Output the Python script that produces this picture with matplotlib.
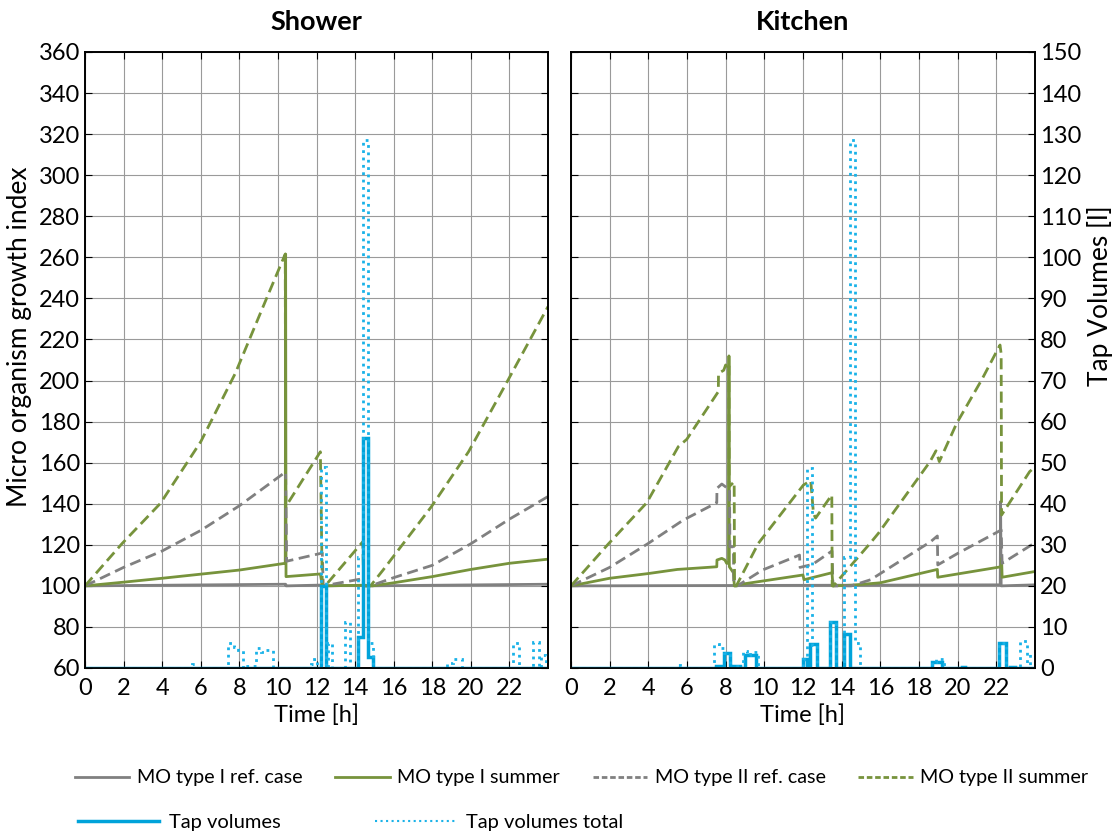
import matplotlib
matplotlib.use('Agg')
import matplotlib.pyplot as plt
from matplotlib.lines import Line2D

plt.rcParams['font.family'] = ['Lato', 'DejaVu Sans']

# ---------------- data ----------------
# Shower: micro organism growth index
sh_I_ref_t = [0, 10.4, 10.42, 12.3, 12.32, 14.5, 14.52, 24]
sh_I_ref_v = [100, 100.8, 100, 100.4, 100, 100.3, 100, 100.8]

sh_I_sum_t = [0, 2, 4, 6, 8, 10.38, 10.4, 10.42, 12.2, 12.3, 14.5, 14.9, 16, 18, 20, 22, 24]
sh_I_sum_v = [100, 101.8, 103.7, 105.7, 107.7, 111, 261.6, 104.5, 105.8, 100, 100.3, 100, 101.5, 104.5, 108, 111, 113]

sh_II_ref_t = [0, 2, 4, 6, 8, 10.4, 10.45, 12.3, 12.35, 14.4, 14.45, 14.8, 16, 18, 20, 22, 24]
sh_II_ref_v = [100, 109, 117, 127, 139, 155.5, 112, 116, 100, 103.5, 100, 100, 104, 110, 120.5, 132.5, 143.5]

sh_II_sum_t = [0, 1.93, 3.91, 6.0, 7.79, 9.34, 10.38, 10.4, 12.2, 12.3, 12.45, 14.4, 14.45, 14.8, 15.45, 17.95, 19.88, 21.88, 24]
sh_II_sum_v = [100, 120.7, 140.2, 170.2, 203.5, 238.4, 261.6, 138.5, 165.3, 100, 100, 121.5, 100, 100, 107.7, 138.5, 165.3, 199.4, 236]

# Shower: tap volumes [l] (step edges / values)
sh_tap_edges = [0, 12.21, 12.49, 14.16, 14.42, 14.68, 14.94, 24]
sh_tap_vals = [0, 20, 0, 7.6, 56, 2.7, 0]

sh_tot_edges = [0, 5.53, 5.7, 7.43, 7.7, 7.95, 8.2, 8.3, 8.86, 9.1, 9.4, 9.76, 11.7, 11.85, 12.0,
                12.21, 12.49, 12.6, 12.78, 13.47, 13.73, 14.16, 14.42, 14.68, 14.94,
                18.74, 19.1, 19.52, 22.16, 22.5, 23.2, 23.54, 23.66, 23.92, 24]
sh_tot_vals = [0, 1.0, 0, 6.0, 5.0, 4.4, 0, 0.6, 4.8, 3.8, 4.5, 0, 1.0, 2.2,
               0, 49, 0, 6.0, 0, 11.3, 0, 27, 128.5, 6.0,
               0, 1.2, 2.2, 0, 6.2, 0, 6.4, 0, 3.2, 0]

# Kitchen: micro organism growth index
kt_I_ref_t = [0, 22.2, 22.22, 22.25, 24]
kt_I_ref_v = [100, 100.5, 141, 100, 100.5]

kt_I_sum_t = [0, 2, 4, 5.5, 7.54, 7.55, 7.8, 7.96, 8.05, 8.15, 8.17, 8.19, 8.4, 8.45, 8.6, 12.0, 12.05,
              13.5, 13.55, 14.5, 16, 18.95, 18.97, 22.25, 22.27, 22.3, 24]
kt_I_sum_v = [100, 103.7, 106, 108, 109.3, 112.6, 113.4, 112.6, 111, 111, 212, 109.3, 106.4, 100, 100.5,
              105.3, 103, 106.4, 100, 100.3, 101.5, 108, 104.2, 109.3, 113.4, 104.2, 107]

kt_II_ref_t = [0, 2, 4, 5.8, 7.54, 7.55, 7.8, 8.1, 8.2, 8.22, 8.4, 8.42, 8.6, 9.9, 11.82, 11.85, 12.5,
               13.5, 13.55, 14.5, 15.5, 18.6, 18.95, 18.97, 20, 22.25, 22.3, 24]
kt_II_ref_v = [100, 109, 120.7, 132, 140.5, 147.5, 149.6, 147.5, 147.5, 119, 119, 100, 100, 107.7, 115, 109,
               110.5, 117, 100, 100, 103, 121.5, 124.3, 110.2, 115.8, 127.2, 111, 121]

kt_II_sum_t = [0, 1.93, 3.92, 5.55, 5.99, 7.62, 7.63, 7.9, 8.0, 8.1, 8.17, 8.18, 8.44, 8.46, 8.55, 9.69,
               12.02, 12.4, 12.54, 12.65, 13.49, 13.51, 13.57, 15.47, 15.9, 18.57, 18.88, 19.05, 19.95,
               21.24, 22.19, 22.25, 22.27, 23.72, 24]
kt_II_sum_v = [100, 120.4, 140.5, 167.8, 171.4, 194.6, 203.5, 205, 207.6, 205, 207, 148.3, 150.7, 100, 100,
               120.7, 149.1, 151.2, 135.3, 133, 144.3, 100, 100, 120.7, 125.6, 160.5, 165.8, 160.5, 179.2,
               200.3, 217.3, 213, 134.5, 155.6, 158]

# Kitchen: tap volumes [l]
kt_tap_edges = [0, 7.5, 7.93, 8.23, 8.4, 8.74, 9.0, 9.55, 12.02, 12.19, 12.36, 12.71, 13.4, 13.69,
                14.14, 14.43, 18.66, 19.18, 20.2, 20.38, 22.14, 22.49, 22.71, 22.97, 24]
kt_tap_vals = [0, 0.5, 3.7, 0, 0.6, 0, 3.2, 0, 2.2, 0, 5.8, 0, 11.1, 0,
               8.2, 0, 1.4, 0, 0.3, 0, 6.2, 0, 0.3, 0]

kt_tot_edges = [0, 5.47, 5.64, 7.41, 7.67, 7.93, 8.23, 8.4, 8.74, 8.92, 9.09, 9.26, 9.69, 12.02, 12.19,
                12.45, 12.71, 13.4, 13.69, 14.12, 14.43, 14.69, 14.95, 18.66, 18.9, 19.3,
                22.14, 22.49, 23.23, 23.57, 23.75, 24]
kt_tot_vals = [0, 0.8, 0, 5.8, 4.8, 3.7, 0, 0.6, 0, 4.1, 3.2, 3.8, 0, 2.2, 48.6,
               5.6, 0, 11.1, 0, 27, 128.6, 6.0, 0, 1.4, 2.2, 0,
               6.2, 0, 6.6, 0, 3.4]

x_ticks = list(range(0, 24, 2))
y_ticks = list(range(60, 361, 20))
tap_ticks = list(range(0, 151, 10))

# ---------------- style ----------------
GRAY = '#808080'
GREEN = '#77933C'
BLUE = '#00A3DA'
BLUE_DOT = '#19B2E8'
FS = 17
FS_Y = 19

fig = plt.figure(figsize=(11.12, 8.34), dpi=100)
ax1 = fig.add_axes([85/1112, 166/834, 463/1112, 616/834])
ax2 = fig.add_axes([571/1112, 166/834, 464/1112, 616/834])

panels = [
    (ax1, 'Shower', (sh_I_ref_t, sh_I_ref_v), (sh_I_sum_t, sh_I_sum_v), (sh_II_ref_t, sh_II_ref_v),
     (sh_II_sum_t, sh_II_sum_v), (sh_tap_edges, sh_tap_vals), (sh_tot_edges, sh_tot_vals)),
    (ax2, 'Kitchen', (kt_I_ref_t, kt_I_ref_v), (kt_I_sum_t, kt_I_sum_v), (kt_II_ref_t, kt_II_ref_v),
     (kt_II_sum_t, kt_II_sum_v), (kt_tap_edges, kt_tap_vals), (kt_tot_edges, kt_tot_vals)),
]

for i, (ax, title, iref, isum, iiref, iisum, tap, tot) in enumerate(panels):
    ax.set_xlim(0, 24)
    ax.set_ylim(60, 360)
    ax.set_xticks(x_ticks)
    ax.set_yticks(y_ticks)
    ax.grid(True, color='#9a9a9a', lw=0.8)
    ax.set_axisbelow(True)
    ax.plot(*iref, color=GRAY, lw=2, label='MO type I ref. case')
    ax.plot(*isum, color=GREEN, lw=2, label='MO type I summer')
    ax.plot(*iiref, color=GRAY, lw=2, ls=(0, (4, 2)), label='MO type II ref. case')
    ax.plot(*iisum, color=GREEN, lw=2, ls=(0, (4, 2)), label='MO type II summer')
    tw = ax.twinx()
    tw.set_ylim(0, 150)
    tw.set_yticks(tap_ticks)
    tw.stairs(tap[1], tap[0], color=BLUE, lw=2.5, baseline=None, label='Tap volumes')
    tw.stairs(tot[1], tot[0], color=BLUE_DOT, lw=2, ls=':', baseline=None, label='Tap volumes total')
    ax.tick_params(direction='in', length=5, top=True, right=False, labelsize=FS, color='black')
    ax.tick_params(axis='x', pad=7)
    tw.tick_params(direction='in', length=5, labelsize=FS)
    ax.set_title(title, fontweight='bold', fontsize=19.5, pad=16)
    ax.set_xlabel('Time [h]', fontsize=FS, labelpad=4)
    if i == 0:
        ax.set_ylabel('Micro organism growth index', fontsize=FS_Y)
        ax.yaxis.set_label_coords(-0.115, 0.537)
        tw.set_yticklabels([])
    else:
        ax.set_yticklabels([])
        tw.set_ylabel('Tap Volumes [l]', fontsize=FS_Y)
        tw.yaxis.set_label_coords(1.112, 0.605)
    for sp in list(ax.spines.values()) + list(tw.spines.values()):
        sp.set_linewidth(1.2)

leg_line1 = [Line2D([], [], color=GRAY, lw=2),
             Line2D([], [], color=GREEN, lw=2),
             Line2D([], [], color=GRAY, lw=2, ls=(0, (2, 1))),
             Line2D([], [], color=GREEN, lw=2, ls=(0, (2, 1)))]
leg_lab1 = ['MO type I ref. case', 'MO type I summer', 'MO type II ref. case', 'MO type II summer']
fig.legend(leg_line1, leg_lab1, loc='center left', bbox_to_anchor=(75/1112, 1 - 778/834),
           ncol=4, frameon=False, fontsize=14.2, handlelength=2.75, handletextpad=0.4,
           columnspacing=1.65, borderaxespad=0, borderpad=0)
leg_line2 = [Line2D([], [], color=BLUE, lw=2.5), Line2D([], [], color=BLUE_DOT, lw=1.5, ls=':')]
leg_lab2 = ['Tap volumes', 'Tap volumes total']
fig.legend(leg_line2, leg_lab2, loc='center left', bbox_to_anchor=(78/1112, 1 - 822/834),
           ncol=2, frameon=False, fontsize=14.5, handlelength=4.0, handletextpad=0.5,
           columnspacing=4.7, borderaxespad=0, borderpad=0)

fig.savefig('out.png', dpi=100)
